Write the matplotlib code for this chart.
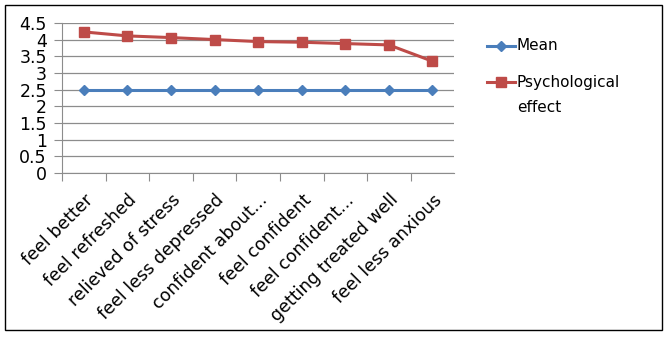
import numpy as np
import matplotlib.pyplot as plt
from matplotlib.lines import Line2D
from matplotlib.patches import Rectangle

# data
categories = ['feel better', 'feel refreshed', 'relieved of stress',
              'feel less depressed', 'confident about...', 'feel confident',
              'feel confident...', 'getting treated well', 'feel less anxious']
mean_values = [2.5, 2.5, 2.5, 2.5, 2.5, 2.5, 2.5, 2.5, 2.5]
effect_values = [4.23, 4.11, 4.06, 4.0, 3.94, 3.92, 3.88, 3.84, 3.35]
y_ticks = [0, 0.5, 1, 1.5, 2, 2.5, 3, 3.5, 4, 4.5]

blue = '#4a7ebb'
red = '#be4b48'

plt.rcParams['font.family'] = ['DejaVu Sans']

fig = plt.figure(figsize=(6.68, 3.37), dpi=100)
ax = fig.add_axes([0.093, 0.487, 0.587, 0.445])

x = np.arange(len(categories))
ax.plot(x, mean_values, color=blue, linewidth=2.2, marker='D',
        markersize=5)
ax.plot(x, effect_values, color=red, linewidth=2.2, marker='s',
        markersize=7)

ax.set_xlim(-0.5, len(categories) - 0.5)
ax.set_ylim(0, 4.5)
ax.set_yticks(y_ticks)
ax.set_yticklabels([f'{v:g}' for v in y_ticks], fontsize=12.5)
ax.yaxis.grid(True, color='#8c8c8c', linewidth=0.9)
ax.set_axisbelow(True)

# category boundaries get tick marks, centers get labels
ax.set_xticks(np.arange(-0.5, len(categories) - 0.5, 1.0))
ax.set_xticklabels([])
ax.set_xticks(x, minor=True)
ax.set_xticklabels(categories, minor=True, rotation=45, ha='right',
                   rotation_mode='anchor', fontsize=12.5)
ax.tick_params(axis='x', which='major', length=6, color='#8c8c8c')
ax.tick_params(axis='x', which='minor', length=0, pad=13)
ax.tick_params(axis='y', length=6, color='#8c8c8c', pad=5)

for side in ['top', 'right']:
    ax.spines[side].set_visible(False)
for side in ['left', 'bottom']:
    ax.spines[side].set_color('#8c8c8c')

# legend drawn by hand so the handle sits on the first label line
def legend_entry(y_px, color, marker, msize, label):
    yf = 1 - y_px / 337
    fig.add_artist(Line2D([487 / 668, 501 / 668, 515 / 668], [yf, yf, yf],
                          color=color, linewidth=2.2, marker=marker,
                          markersize=msize, markevery=[1],
                          transform=fig.transFigure))
    fig.text(517 / 668, yf, label, fontsize=11, va='center', ha='left')

legend_entry(46, blue, 'D', 5, 'Mean')
legend_entry(82, red, 's', 7, 'Psychological')
fig.text(517 / 668, 1 - 107 / 337, 'effect', fontsize=11, va='center',
         ha='left')

# outer chart border
fig.patches.append(Rectangle((0.008, 0.02), 0.983, 0.965,
                             transform=fig.transFigure, fill=False,
                             edgecolor='black', linewidth=1.0))

fig.savefig('out.png', dpi=100)
